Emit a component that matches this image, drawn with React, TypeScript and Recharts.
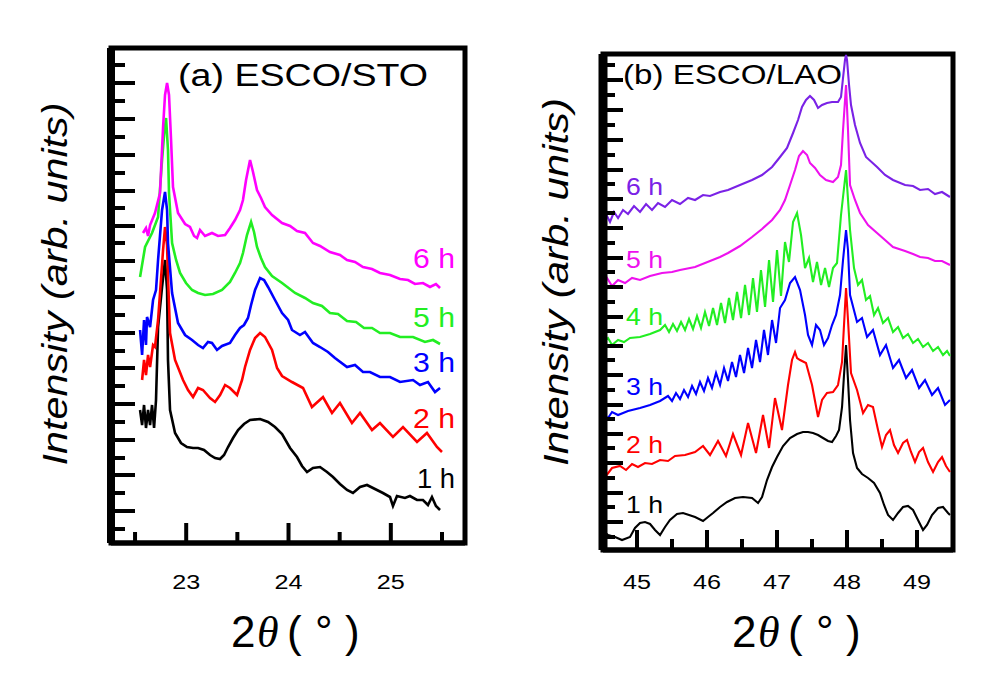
import React from 'react';
import { LineChart, Line, XAxis, YAxis, ReferenceArea } from 'recharts';

type P = [number, number];

// ---------- Panel (a) ESCO/STO : 2theta (deg), intensity (arb. units) ----------
const a1h: P[] = [[22.549,133],[22.569,118],[22.588,138],[22.607,115],[22.627,133],[22.647,118],[22.666,138],[22.686,115],[22.705,143],[22.725,216],[22.764,256],[22.793,283],[22.813,253],[22.822,183],[22.842,133],[22.891,110],[22.949,100],[23.008,96],[23.067,95],[23.116,95],[23.174,93],[23.233,88],[23.282,85],[23.331,84],[23.370,88],[23.409,96],[23.458,105],[23.507,113],[23.565,119],[23.624,123],[23.722,124],[23.800,121],[23.868,116],[23.937,109],[24.015,95],[24.083,86],[24.132,77],[24.181,71],[24.239,75],[24.308,76],[24.376,71],[24.435,66],[24.503,59],[24.572,53],[24.630,50],[24.699,56],[24.767,58],[24.845,54],[24.923,50],[24.992,46],[25.021,37],[25.060,47],[25.138,45],[25.187,47],[25.256,43],[25.314,43],[25.363,38],[25.402,46],[25.441,37],[25.481,33]];
const a2h: P[] = [[22.569,163],[22.588,183],[22.607,168],[22.627,188],[22.647,176],[22.676,198],[22.695,196],[22.725,223],[22.744,250],[22.774,293],[22.793,316],[22.813,298],[22.822,266],[22.842,210],[22.891,183],[22.969,163],[23.018,153],[23.067,146],[23.116,155],[23.164,153],[23.233,145],[23.282,141],[23.331,148],[23.380,158],[23.428,155],[23.497,148],[23.546,163],[23.575,176],[23.624,193],[23.673,205],[23.722,210],[23.770,206],[23.839,193],[23.888,175],[23.937,167],[24.034,161],[24.142,155],[24.229,136],[24.337,146],[24.425,130],[24.503,140],[24.620,120],[24.699,130],[24.816,113],[24.894,120],[25.021,106],[25.119,116],[25.256,101],[25.353,110],[25.451,96],[25.500,91]];
const a3h: P[] = [[22.549,213],[22.569,188],[22.588,223],[22.607,198],[22.617,226],[22.647,216],[22.676,243],[22.705,253],[22.725,283],[22.764,333],[22.793,351],[22.813,333],[22.822,300],[22.862,250],[22.920,220],[22.989,208],[23.057,203],[23.116,198],[23.164,195],[23.213,201],[23.252,200],[23.301,193],[23.350,197],[23.428,200],[23.477,208],[23.526,215],[23.565,218],[23.604,225],[23.634,238],[23.673,253],[23.722,265],[23.761,263],[23.800,256],[23.868,243],[23.937,230],[23.996,223],[24.034,213],[24.112,208],[24.161,211],[24.239,200],[24.308,196],[24.386,191],[24.454,185],[24.572,176],[24.650,178],[24.728,171],[24.796,171],[24.894,166],[24.992,166],[25.090,161],[25.217,163],[25.285,158],[25.363,161],[25.432,151],[25.481,155]];
const a5h: P[] = [[22.549,266],[22.598,296],[22.666,310],[22.725,326],[22.764,383],[22.784,408],[22.803,425],[22.822,393],[22.832,350],[22.862,300],[22.901,283],[22.940,270],[22.998,260],[23.057,253],[23.116,250],[23.184,248],[23.262,249],[23.350,253],[23.428,261],[23.477,270],[23.526,280],[23.555,290],[23.594,308],[23.634,321],[23.663,311],[23.692,296],[23.731,285],[23.770,276],[23.839,267],[23.937,260],[24.064,250],[24.161,245],[24.239,240],[24.327,237],[24.405,230],[24.484,229],[24.572,222],[24.660,221],[24.738,215],[24.816,215],[24.894,210],[24.992,210],[25.090,206],[25.217,206],[25.334,201],[25.412,203],[25.481,199]];
const a6h: P[] = [[22.578,310],[22.607,315],[22.627,307],[22.647,318],[22.695,330],[22.744,350],[22.774,416],[22.793,448],[22.813,460],[22.832,448],[22.852,403],[22.871,356],[22.920,330],[22.989,319],[23.037,316],[23.077,307],[23.106,305],[23.135,313],[23.184,307],[23.252,310],[23.311,307],[23.380,308],[23.428,315],[23.477,323],[23.526,333],[23.555,343],[23.585,363],[23.624,383],[23.653,371],[23.692,353],[23.731,345],[23.770,336],[23.839,328],[23.937,320],[24.015,317],[24.083,312],[24.161,310],[24.239,300],[24.308,297],[24.405,291],[24.503,288],[24.572,283],[24.650,281],[24.728,276],[24.816,274],[24.894,270],[24.992,268],[25.090,264],[25.168,263],[25.236,259],[25.314,260],[25.383,256],[25.441,259],[25.481,255]];

// ---------- Panel (b) ESCO/LAO ----------
const b1h: P[] = [[44.500,20],[44.586,15],[44.686,13],[44.786,10],[44.900,13],[44.971,22],[45.043,27],[45.114,28],[45.186,26],[45.257,20],[45.329,15],[45.400,23],[45.471,30],[45.571,36],[45.657,37],[45.743,35],[45.829,33],[45.943,29],[46.014,33],[46.086,37],[46.186,43],[46.286,48],[46.400,52],[46.514,53],[46.643,52],[46.729,47],[46.786,53],[46.857,70],[46.929,83],[47.000,93],[47.086,104],[47.186,112],[47.286,116],[47.371,118],[47.443,118],[47.514,117],[47.586,115],[47.657,112],[47.729,109],[47.786,108],[47.843,114],[47.886,120],[47.929,143],[47.957,175],[47.986,205],[48.014,170],[48.043,130],[48.086,97],[48.143,82],[48.214,76],[48.300,72],[48.386,67],[48.471,57],[48.529,45],[48.586,35],[48.657,30],[48.729,37],[48.800,43],[48.871,44],[48.943,40],[49.014,30],[49.086,20],[49.143,25],[49.214,35],[49.300,42],[49.371,43],[49.443,37],[49.471,35]];
const b2h: P[] = [[44.500,80],[44.557,74],[44.643,82],[44.757,84],[44.843,80],[44.929,86],[45.014,83],[45.114,87],[45.214,86],[45.329,90],[45.443,89],[45.543,94],[45.686,95],[45.829,98],[45.943,104],[46.043,95],[46.157,109],[46.271,94],[46.371,116],[46.486,95],[46.586,127],[46.700,97],[46.800,135],[46.886,102],[46.971,152],[47.071,120],[47.157,165],[47.214,190],[47.257,198],[47.286,192],[47.329,190],[47.414,187],[47.500,165],[47.586,133],[47.643,150],[47.714,157],[47.800,158],[47.871,165],[47.929,188],[47.957,225],[47.986,262],[48.014,230],[48.057,177],[48.143,160],[48.229,137],[48.300,145],[48.371,143],[48.443,120],[48.500,103],[48.557,115],[48.614,120],[48.671,105],[48.729,97],[48.800,107],[48.857,110],[48.914,98],[48.971,88],[49.029,98],[49.086,102],[49.157,88],[49.229,78],[49.300,88],[49.357,93],[49.414,84],[49.471,78]];
const b3h: P[] = [[44.500,135],[44.586,132],[44.643,138],[44.729,135],[44.871,139],[45.043,142],[45.186,145],[45.329,149],[45.443,154],[45.500,149],[45.557,157],[45.614,151],[45.671,160],[45.729,153],[45.786,164],[45.843,156],[45.900,168],[45.957,159],[46.014,172],[46.071,162],[46.129,177],[46.186,165],[46.243,182],[46.300,169],[46.357,188],[46.414,173],[46.471,195],[46.529,177],[46.586,202],[46.643,182],[46.700,210],[46.757,188],[46.814,220],[46.871,195],[46.929,230],[46.986,207],[47.043,242],[47.114,250],[47.186,267],[47.257,273],[47.329,260],[47.400,235],[47.443,215],[47.500,205],[47.557,225],[47.614,220],[47.671,205],[47.729,212],[47.786,225],[47.843,235],[47.900,255],[47.943,290],[47.986,320],[48.014,300],[48.043,255],[48.143,228],[48.214,232],[48.286,213],[48.371,220],[48.471,195],[48.557,205],[48.657,182],[48.743,190],[48.843,172],[48.929,180],[49.029,162],[49.114,170],[49.214,155],[49.300,162],[49.400,145],[49.471,150]];
const b4h: P[] = [[44.500,207],[44.586,212],[44.643,205],[44.729,210],[44.814,208],[44.900,212],[45.043,213],[45.186,216],[45.329,220],[45.400,225],[45.457,218],[45.514,226],[45.571,219],[45.629,228],[45.686,220],[45.743,231],[45.800,221],[45.857,234],[45.914,222],[45.971,238],[46.029,224],[46.086,242],[46.143,225],[46.200,247],[46.257,227],[46.314,252],[46.371,230],[46.429,258],[46.486,232],[46.543,265],[46.600,235],[46.657,272],[46.714,238],[46.771,280],[46.829,243],[46.886,290],[46.943,248],[47.000,300],[47.057,254],[47.114,308],[47.171,288],[47.229,328],[47.286,337],[47.343,315],[47.400,282],[47.457,292],[47.514,268],[47.571,288],[47.629,265],[47.686,282],[47.743,263],[47.800,282],[47.857,287],[47.914,335],[47.986,380],[48.043,320],[48.100,282],[48.157,265],[48.214,270],[48.271,250],[48.329,254],[48.386,235],[48.443,242],[48.514,227],[48.586,232],[48.657,218],[48.729,223],[48.800,212],[48.871,216],[48.943,207],[49.014,211],[49.086,203],[49.157,207],[49.229,199],[49.300,203],[49.371,195],[49.429,199],[49.471,194]];
const b5h: P[] = [[44.500,267],[44.571,272],[44.643,264],[44.729,270],[44.829,267],[44.929,272],[45.043,270],[45.186,274],[45.357,277],[45.500,278],[45.614,280],[45.829,283],[46.043,289],[46.186,293],[46.300,297],[46.471,304],[46.643,313],[46.786,321],[46.929,330],[47.043,340],[47.114,350],[47.186,365],[47.257,380],[47.314,394],[47.371,399],[47.429,395],[47.471,387],[47.543,382],[47.614,375],[47.700,370],[47.800,368],[47.871,373],[47.914,385],[47.943,420],[47.986,465],[48.014,420],[48.043,365],[48.114,350],[48.186,337],[48.300,325],[48.429,317],[48.543,310],[48.657,303],[48.829,299],[48.943,296],[49.043,293],[49.157,292],[49.257,289],[49.357,289],[49.471,285]];
const b6h: P[] = [[44.500,330],[44.557,336],[44.614,328],[44.671,338],[44.729,332],[44.800,340],[44.871,336],[44.957,344],[45.043,338],[45.129,346],[45.214,340],[45.300,347],[45.400,343],[45.500,350],[45.614,346],[45.729,352],[45.829,350],[45.943,355],[46.043,354],[46.186,358],[46.300,360],[46.471,365],[46.643,370],[46.786,375],[46.929,383],[47.043,393],[47.143,402],[47.229,417],[47.300,430],[47.357,443],[47.414,450],[47.471,454],[47.529,450],[47.586,442],[47.643,445],[47.714,447],[47.786,448],[47.871,448],[47.914,453],[47.943,472],[47.971,490],[47.986,495],[48.000,490],[48.029,465],[48.057,445],[48.114,425],[48.186,407],[48.271,393],[48.429,383],[48.543,375],[48.657,370],[48.829,365],[48.943,364],[49.043,360],[49.157,361],[49.257,356],[49.357,358],[49.471,353]];

// ---------- axes ----------
const xDomainA: [number, number] = [22.265, 25.725];
const xDomainB: [number, number] = [44.514, 49.514];
const yDomainA: [number, number] = [0, 495];
const yDomainB: [number, number] = [0, 496];
const xTicksA = [22.5, 23, 23.5, 24, 24.5, 25, 25.5];
const xTicksB = [45, 45.5, 46, 46.5, 47, 47.5, 48, 48.5, 49];
const yMajorA = [32, 68, 103, 139, 175, 210, 246, 282, 317, 352, 388, 424, 460];
const yMinorA = [14, 50, 85, 121, 157, 192, 228, 264, 300, 335, 370, 406, 442, 478];
const yMajorB = [28, 57, 87, 116, 145, 175, 204, 233, 263, 292, 322, 351, 380, 410, 440, 470];
const yMinorB = [13, 43, 72, 102, 131, 160, 190, 219, 248, 278, 307, 337, 366, 395, 425, 455, 485];

// ---------- labels ----------
const titleA = '(a) ESCO/STO';
const titleB = '(b) ESCO/LAO';
const yTitle = 'Intensity (arb. units)';
const seriesA = [
  { name: '1 h', data: a1h, color: '#000000' },
  { name: '2 h', data: a2h, color: '#ff0000' },
  { name: '3 h', data: a3h, color: '#0000ff' },
  { name: '5 h', data: a5h, color: '#22ee22' },
  { name: '6 h', data: a6h, color: '#ff00ff' },
];
const seriesB = [
  { name: '1 h', data: b1h, color: '#000000' },
  { name: '2 h', data: b2h, color: '#ff0000' },
  { name: '3 h', data: b3h, color: '#0000ff' },
  { name: '4 h', data: b4h, color: '#22ee22' },
  { name: '5 h', data: b5h, color: '#ee11ee' },
  { name: '6 h', data: b6h, color: '#7a22e6' },
];

const SANS = "'Liberation Sans', Arial, Helvetica, sans-serif";
const SERIF = "'Liberation Serif', 'DejaVu Serif', serif";

const toRows = (pts: P[]) => pts.map(([x, y]) => ({ x, y }));
const sorted = (a: number[], b: number[]) => [...a, ...b].sort((p, q) => p - q);

function makeXTick(labelDy: number) {
  return (props: any) => {
    const { x, y, payload } = props;
    const v = payload.value as number;
    const major = Math.abs(v - Math.round(v)) < 1e-6;
    return (
      <g>
        <line x1={x} x2={x} y1={y} y2={y - (major ? 20 : 11)} stroke="#000" strokeWidth={4} />
        {major && (
          <text x={x} y={y + labelDy} textAnchor="middle" fontFamily={SANS} fontSize={20}
            textLength={28} lengthAdjust="spacingAndGlyphs" fill="#000">{v}</text>
        )}
      </g>
    );
  };
}

function makeYTick(majors: number[], majLen: number, minLen: number) {
  return (props: any) => {
    const { x, y, payload } = props;
    const major = majors.includes(payload.value);
    return <line x1={x} x2={x + (major ? majLen : minLen)} y1={y} y2={y} stroke="#000" strokeWidth={4} />;
  };
}

interface PanelProps {
  margin: { top: number; right: number; bottom: number; left: number };
  xDomain: [number, number];
  yDomain: [number, number];
  xTicks: number[];
  yMajor: number[];
  yMinor: number[];
  series: { name: string; data: P[]; color: string }[];
  labelDy: number;
  leftWidth: number;
  majLen: number;
  minLen: number;
  lineWidth: number;
}

function Panel(p: PanelProps) {
  return (
    <div style={{ position: 'absolute', left: 0, top: 0 }}>
      <LineChart width={984} height={682} margin={p.margin}>
        <XAxis type="number" dataKey="x" domain={p.xDomain} ticks={p.xTicks} interval={0}
          allowDataOverflow height={1} tickSize={0} tickMargin={0} tickLine={false}
          axisLine={{ stroke: '#000', strokeWidth: 5 }} tick={makeXTick(p.labelDy)} />
        <YAxis type="number" domain={p.yDomain} ticks={sorted(p.yMajor, p.yMinor)} interval={0}
          allowDataOverflow width={1} tickSize={0} tickMargin={0} tickLine={false}
          axisLine={{ stroke: '#000', strokeWidth: p.leftWidth }} tick={makeYTick(p.yMajor, p.majLen, p.minLen)} />
        <ReferenceArea x1={p.xDomain[0]} x2={p.xDomain[1]} y1={p.yDomain[0]} y2={p.yDomain[1]}
          fill="none" fillOpacity={0} stroke="#000" strokeWidth={5} ifOverflow="visible" />
        {p.series.map((s) => (
          <Line key={s.name} data={toRows(s.data)} dataKey="y" type="linear" stroke={s.color}
            strokeWidth={p.lineWidth} dot={false} activeDot={false} isAnimationActive={false} />
        ))}
      </LineChart>
    </div>
  );
}

function AxisTitle({ x0 }: { x0: number }) {
  return (
    <g fill="#000">
      <text x={x0} y={647} fontFamily={SANS} fontSize={44}>2</text>
      <text x={x0 + 26} y={647} fontFamily={SERIF} fontStyle="italic" fontSize={44}>θ</text>
      <text x={x0 + 56} y={647} fontFamily={SANS} fontSize={44}>(</text>
      <text x={x0 + 84} y={647} fontFamily={SANS} fontSize={44}>°</text>
      <text x={x0 + 114} y={647} fontFamily={SANS} fontSize={44}>)</text>
    </g>
  );
}

export default function App() {
  const labPosA = [488, 428, 372, 327, 268];
  const labPosB = [513, 453, 395, 325, 268, 195];
  return (
    <div style={{ position: 'absolute', left: 0, top: 0, width: 984, height: 682, background: '#fff', overflow: 'hidden' }}>
      <Panel margin={{ top: 48, right: 519, bottom: 138, left: 110 }} xDomain={xDomainA} yDomain={yDomainA}
        xTicks={xTicksA} yMajor={yMajorA} yMinor={yMinorA} series={seriesA} labelDy={46}
        leftWidth={8} majLen={24} minLen={14} lineWidth={2.6} />
      <Panel margin={{ top: 54, right: 31, bottom: 131, left: 602 }} xDomain={xDomainB} yDomain={yDomainB}
        xTicks={xTicksB} yMajor={yMajorB} yMinor={yMinorB} series={seriesB} labelDy={39}
        leftWidth={9} majLen={20} minLen={12} lineWidth={2.1} />
      <svg width={984} height={682} style={{ position: 'absolute', left: 0, top: 0 }}>
        <text x={178} y={86} fontFamily={SANS} fontSize={31} textLength={250} lengthAdjust="spacingAndGlyphs">{titleA}</text>
        <text x={623} y={84} fontFamily={SANS} fontSize={28} textLength={219} lengthAdjust="spacingAndGlyphs">{titleB}</text>
        {seriesA.map((s, i) => (
          <text key={'la' + i} x={455} y={labPosA[i]} textAnchor="end" fontFamily={SANS} fontSize={28}
            fill={s.color} textLength={i === 0 ? 38 : 42} lengthAdjust="spacingAndGlyphs">{s.name}</text>
        ))}
        {seriesB.map((s, i) => (
          <text key={'lb' + i} x={626} y={labPosB[i]} fontFamily={SANS} fontSize={24}
            fill={s.color} textLength={37} lengthAdjust="spacingAndGlyphs">{s.name}</text>
        ))}
        <text transform="rotate(-90 67 284)" x={67} y={284} textAnchor="middle" fontFamily={SANS} fontStyle="italic"
          fontSize={35} textLength={363} lengthAdjust="spacingAndGlyphs">{yTitle}</text>
        <text transform="rotate(-90 568 282)" x={568} y={282} textAnchor="middle" fontFamily={SANS} fontStyle="italic"
          fontSize={35} textLength={368} lengthAdjust="spacingAndGlyphs">{yTitle}</text>
        <AxisTitle x0={231} />
        <AxisTitle x0={732} />
      </svg>
    </div>
  );
}
